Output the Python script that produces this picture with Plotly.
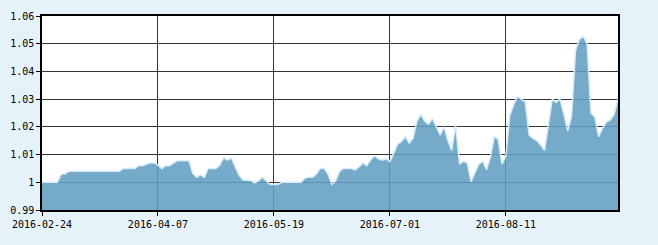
import plotly.graph_objects as go

values = [
    1.000, 1.000, 1.000, 1.000, 1.000, 1.003, 1.003, 1.004, 1.004, 1.004,
    1.004, 1.004, 1.004, 1.004, 1.004, 1.004, 1.004, 1.004, 1.004, 1.004,
    1.004, 1.005, 1.005, 1.005, 1.005, 1.006, 1.006, 1.0065, 1.007, 1.007,
    1.0062, 1.005, 1.006, 1.006, 1.007, 1.0078, 1.0078, 1.0078, 1.0078, 1.0032,
    1.0018, 1.0027, 1.0018, 1.005, 1.005, 1.005, 1.0062, 1.0088, 1.008, 1.0088,
    1.0055, 1.0025, 1.0008, 1.0006, 1.0006, 0.9998, 1.0005, 1.0018, 1.0006, 0.9992,
    0.9992, 0.9992, 1.000, 1.000, 1.000, 1.000, 1.000, 1.000, 1.0015, 1.0018,
    1.0018, 1.003, 1.005, 1.005, 1.003, 0.9992, 1.0006, 1.004, 1.005, 1.005,
    1.005, 1.0045, 1.0055, 1.007, 1.006, 1.008, 1.0095, 1.0085, 1.008, 1.0085,
    1.0075, 1.0105, 1.0138, 1.0147, 1.0165, 1.0141, 1.0159, 1.022, 1.0245, 1.022,
    1.021, 1.023, 1.020, 1.017, 1.020, 1.015, 1.0115, 1.0205, 1.0065, 1.0076,
    1.007, 1.0002, 1.0035, 1.0065, 1.0076, 1.0045, 1.009, 1.0165, 1.0155, 1.0065,
    1.0095, 1.024, 1.028, 1.031, 1.030, 1.029, 1.017, 1.0158, 1.015, 1.0135,
    1.0115, 1.020, 1.030, 1.0288, 1.030, 1.0245, 1.0185, 1.024, 1.0475, 1.0515,
    1.0527, 1.050, 1.025, 1.0235, 1.0165, 1.0195, 1.0217, 1.0225, 1.0245, 1.030,
]
index = list(range(len(values)))

date_tick_index = [0, 30, 60, 90, 120]
date_tick_labels = ["2016-02-24", "2016-04-07", "2016-05-19", "2016-07-01", "2016-08-11"]

y_tick_values = [0.99, 1.00, 1.01, 1.02, 1.03, 1.04, 1.05, 1.06]
y_tick_labels = ["0.99", "1", "1.01", "1.02", "1.03", "1.04", "1.05", "1.06"]

fig = go.Figure()
fig.add_trace(go.Scatter(
    x=index, y=values, mode="lines",
    fill="tozeroy",
    fillcolor="rgba(98,158,194,0.88)",
    line=dict(color="#d6ebf7", width=1.5),
    hoverinfo="skip",
))

font = dict(family="DejaVu Sans Mono, Liberation Mono, monospace", size=10, color="#000")

fig.update_layout(
    width=658, height=245,
    margin=dict(l=38, r=40, t=10, b=35),
    paper_bgcolor="#e6f2fa",
    plot_bgcolor="#ffffff",
    showlegend=False,
    font=font,
    xaxis=dict(
        range=[0, len(values) - 1],
        tickvals=date_tick_index, ticktext=date_tick_labels,
        showgrid=True, gridcolor="#333333", gridwidth=1,
        zeroline=False,
        showline=True, linecolor="#000", linewidth=1.5, mirror=True,
        ticks="outside", ticklen=4, tickcolor="#000",
        tickfont=font,
    ),
    yaxis=dict(
        range=[0.99, 1.06],
        tickvals=y_tick_values, ticktext=y_tick_labels,
        showgrid=True, gridcolor="#333333", gridwidth=1,
        zeroline=False,
        showline=True, linecolor="#000", linewidth=1.5, mirror=True,
        ticks="outside", ticklen=4, tickcolor="#000",
        tickfont=font,
    ),
)

fig.write_html("out.html")
